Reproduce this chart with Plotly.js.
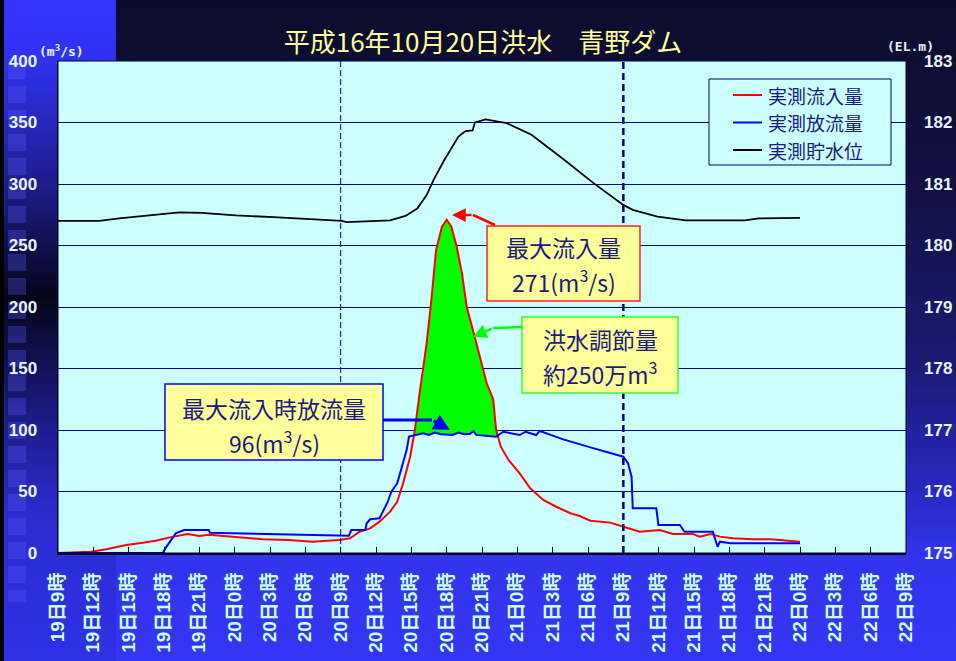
<!DOCTYPE html>
<html><head><meta charset="utf-8">
<script src="https://cdn.plot.ly/plotly-3.0.1.min.js"></script>
<style>
html,body{margin:0;padding:0;width:956px;height:661px;overflow:hidden;}
body{background:linear-gradient(to bottom,#0c0c2c 0%,#111144 30%,#1b1b74 55%,#2828c0 74%,#3434ee 84%,#3535f5 100%);position:relative;}
#strip{position:absolute;left:0;top:0;width:116px;height:661px;background:linear-gradient(to bottom,#3535ff 0%,#3131f0 9%,#1d1d8c 28%,#05051a 45%,#1a1a80 62%,#2c2cd0 78%,#3030e8 100%);border-left:4px solid #000;box-sizing:border-box;}
#sq{position:absolute;left:8px;top:62px;width:18px;height:540px;background:repeating-linear-gradient(to bottom,rgba(90,90,255,0.3) 0 17px,transparent 17px 24px);}
#chart{position:absolute;left:0;top:0;width:956px;height:661px;}
</style></head>
<body>
<div id="strip"></div><div id="sq"></div>
<div id="chart"></div>
<script>
// ---- data (hours from 19日9時) ----
const tickHours = [0,3,6,9,12,15,18,21,24,27,30,33,36,39,42,45,48,51,54,57,60,63,66,69,72];
const tickLabels = ['19日9時','19日12時','19日15時','19日18時','19日21時','20日0時','20日3時','20日6時','20日9時','20日12時','20日15時','20日18時','20日21時','21日0時','21日3時','21日6時','21日9時','21日12時','21日15時','21日18時','21日21時','22日0時','22日3時','22日6時','22日9時'];

const inflowHours = [0,2.8,4.1,5.8,7.2,8.3,9.5,11.0,12.0,12.8,14.8,17.4,19.6,21.6,23.9,24.8,25.6,26.5,27.3,28.2,28.8,29.3,29.9,30.3,30.7,31.3,31.7,32.1,32.6,33.0,33.4,33.85,34.3,34.7,35.3,36.0,36.4,36.95,37.2,37.6,38.25,39.2,40.1,41.2,42.3,43.5,44.3,45.2,46.9,48.0,49.4,51.1,52.2,53.9,54.5,55.4,56.2,57.3,59.0,60.5,63.0];
const inflow = [0,1,3,6.5,8.4,10,12.7,15.4,13.8,14.9,13.3,11.1,10.6,9.2,10.6,11.9,17.3,20,25.5,33.6,41.7,56.6,78.3,100,129.8,170.5,205.7,246.3,265.3,271,265.3,249,227.4,200.2,178.6,151.5,138,125,100,86.4,75.6,64.8,52.6,43.1,37.6,32.3,30.1,26.3,24.7,21.4,17.3,18.7,15.4,15.4,13.3,15.4,13.3,11.9,11.1,11.1,9.2];

const outflowHours = [0,8.9,9.2,10.0,10.7,12.8,12.9,16.8,20.8,23.9,24.7,24.9,26.1,26.2,26.5,27.3,27.6,28.0,28.3,28.8,29.2,29.6,29.8,30.5,31.0,31.5,32.0,32.5,33.0,33.5,34.0,34.5,35.0,35.3,35.5,36.2,37.2,37.8,39.2,39.7,40.6,40.9,42.9,45.2,47.1,48.0,48.4,48.7,48.8,50.8,50.98,52.8,53.2,55.6,56.0,56.2,57.1,63.0];
const outflow = [0,0,5,16,18.7,18.7,16.5,15.7,14.9,14.6,14.0,18.7,18.7,24,27.4,28.2,33.6,41.7,49.8,56.6,70.2,83.7,94.6,95.9,97.3,96,98,96.5,96,96,98,96.5,97,99,96,95.5,94.6,98.6,95.9,98.6,95.9,99.2,92.4,85.9,80.5,78.3,72.9,62,36.3,36.3,22.8,22.8,17.3,17.3,5.1,9.2,7.9,7.9];

const levelHours = [0,3.5,5.2,8.1,10.3,12.2,15.1,18.3,21.2,24.1,24.5,28.2,29.5,30.5,31.3,31.9,32.8,34.0,34.6,35.2,35.4,36.3,38.1,40.2,43.0,45.5,48.0,48.8,50.9,53.3,58.3,59.5,63.0];
const level = [180.40,180.40,180.44,180.50,180.54,180.53,180.49,180.46,180.43,180.40,180.38,180.41,180.48,180.60,180.82,181.07,181.39,181.77,181.86,181.87,182.00,182.05,181.99,181.80,181.39,181.01,180.66,180.58,180.47,180.41,180.41,180.44,180.45];

const seriesNames = ['実測流入量','実測放流量','実測貯水位'];
const titleText = '平成16年10月20日洪水　青野ダム';

// ---- flood-control area between inflow and outflow (derived) ----
function interp(xs, ys, x){
  for(let i=0;i<xs.length-1;i++){
    if(x>=xs[i] && x<=xs[i+1]){ const t=(x-xs[i])/(xs[i+1]-xs[i]); return ys[i]+t*(ys[i+1]-ys[i]); }
  }
  return ys[ys.length-1];
}
const H = Array.from(new Set(inflowHours.concat(outflowHours))).sort((a,b)=>a-b);
const D = H.map(h => interp(inflowHours,inflow,h) - interp(outflowHours,outflow,h));
const pkH = inflowHours[inflow.indexOf(Math.max(...inflow))];
let pk = H.indexOf(pkH), i0 = pk, i1 = pk;
while(i0>0 && D[i0-1]>0) i0--;
while(i1<H.length-1 && D[i1+1]>0) i1++;
const cross = (a,b) => H[a] + (H[b]-H[a]) * D[a]/(D[a]-D[b]);
const seg = [cross(i0-1,i0)].concat(H.slice(i0,i1+1), [cross(i1,i1+1)]);
const segR = seg.slice().reverse();
const fillX = seg.concat(segR);
const fillY = seg.map(h=>interp(inflowHours,inflow,h)).concat(segR.map(h=>interp(outflowHours,outflow,h)));

// ---- layout helpers (pixel -> paper) ----
const L=58, R=906, T=61, B=553;
const px = x => (x-L)/(R-L);
const py = y => (B-y)/(B-T);

const cjk = 'Noto Sans CJK JP, sans-serif';
const navy = '#1a1a80';

const traces = [
  {x:fillX, y:fillY, type:'scatter', mode:'lines', fill:'toself', fillcolor:'#00ff00', line:{width:0}, hoverinfo:'skip', showlegend:false},
  {x:inflowHours, y:inflow, name:seriesNames[0], type:'scatter', mode:'lines', line:{color:'#ff0000', width:2}},
  {x:outflowHours, y:outflow, name:seriesNames[1], type:'scatter', mode:'lines', line:{color:'#0000ff', width:2}},
  {x:levelHours, y:level, name:seriesNames[2], type:'scatter', mode:'lines', yaxis:'y2', line:{color:'#000000', width:1.8}}
];

const shapes = [
  {type:'rect', xref:'paper', yref:'paper', x0:0, x1:1, y0:0, y1:1, line:{color:'#000040', width:1}},
  {type:'line', xref:'x', yref:'paper', x0:24, x1:24, y0:0, y1:1, line:{color:'#000080', width:1, dash:'6px,3px'}},
  {type:'line', xref:'x', yref:'paper', x0:48, x1:48, y0:0, y1:1, line:{color:'#000080', width:2.5, dash:'7px,4px'}},
  // callout boxes
  {type:'rect', xref:'paper', yref:'paper', x0:px(487), x1:px(640), y0:py(301), y1:py(226), fillcolor:'#ffff99', line:{color:'#ff2020', width:1.5}},
  {type:'rect', xref:'paper', yref:'paper', x0:px(522), x1:px(678), y0:py(393), y1:py(317), fillcolor:'#ffff99', line:{color:'#33ff33', width:1.5}},
  {type:'rect', xref:'paper', yref:'paper', x0:px(165), x1:px(383), y0:py(460), y1:py(384), fillcolor:'#ffff99', line:{color:'#0000ff', width:1.5}},
  // arrow first segments
  {type:'line', xref:'paper', yref:'paper', x0:px(495), y0:py(225), x1:px(473), y1:py(215), line:{color:'#ff0000', width:2.5}},
  {type:'line', xref:'paper', yref:'paper', x0:px(522), y0:py(327), x1:px(493), y1:py(328), line:{color:'#00ff00', width:2.5}},
  {type:'line', xref:'paper', yref:'paper', x0:px(383), y0:py(420), x1:px(432), y1:py(420), line:{color:'#0000ff', width:3}},
  // legend
  {type:'rect', xref:'paper', yref:'paper', x0:px(709), x1:px(891), y0:py(165), y1:py(79), fillcolor:'#ccffff', line:{color:'#000080', width:1}},
  {type:'line', xref:'paper', yref:'paper', x0:px(733), x1:px(762), y0:py(95), y1:py(95), line:{color:'#ff0000', width:2}},
  {type:'line', xref:'paper', yref:'paper', x0:px(733), x1:px(762), y0:py(122.5), y1:py(122.5), line:{color:'#0000ff', width:2}},
  {type:'line', xref:'paper', yref:'paper', x0:px(733), x1:px(762), y0:py(150), y1:py(150), line:{color:'#000000', width:2}}
];

function txt(text, x, y, size, anchor){
  return {text:text, xref:'paper', yref:'paper', x:px(x), y:py(y), xanchor:anchor||'center', yanchor:'middle', showarrow:false, font:{family:cjk, size:size, color:navy}};
}
function arrow(color, w, hx, hy, tx, ty){
  return {text:' ', xref:'paper', yref:'paper', x:px(hx), y:py(hy), ax:tx-hx, ay:ty-hy, showarrow:true, arrowhead:2, arrowsize:1.1, arrowwidth:w, arrowcolor:color, font:{size:1}};
}
const unitFont = {family:'DejaVu Sans Mono, monospace', size:13, color:'#e8f4ff', weight:'bold'};
const annotations = [
  {text:'(m<sup>3</sup>/s)', xref:'paper', yref:'paper', x:px(61), y:py(51), xanchor:'center', yanchor:'middle', showarrow:false, font:unitFont},
  {text:'(EL.m)', xref:'paper', yref:'paper', x:px(910), y:py(47), xanchor:'center', yanchor:'middle', showarrow:false, font:unitFont},
  txt('最大流入量', 563.5, 247, 23), txt('271(m<sup>3</sup>/s)', 563.5, 281, 23),
  txt('洪水調節量', 600, 339, 23), txt('約250万m<sup>3</sup>', 600, 373, 23),
  txt('最大流入時放流量', 274, 408, 23), txt('96(m<sup>3</sup>/s)', 274, 442, 23),
  arrow('#ff0000', 2.5, 452, 215, 473, 215),
  arrow('#00ff00', 2.5, 473, 337, 493, 328),
  arrow('#0000ff', 3, 450, 430, 432, 420),
  txt(seriesNames[0], 766, 95, 19, 'left'),
  txt(seriesNames[1], 766, 122.5, 19, 'left'),
  txt(seriesNames[2], 766, 150, 19, 'left')
];

const tickFontY = {family:'Liberation Sans, Arial, sans-serif', size:17, color:'#e8f4ff', weight:'bold'};
const layout = {
  width:956, height:661,
  margin:{l:L, r:956-R, t:T, b:661-B, pad:0},
  paper_bgcolor:'rgba(0,0,0,0)', plot_bgcolor:'#ccffff',
  showlegend:false,
  title:{text:titleText, font:{family:cjk, size:26, color:'#ffff99'}, x:px(483), xref:'paper', xanchor:'center', y:1-43/661, yref:'container', yanchor:'middle'},
  xaxis:{range:[0,72], tickmode:'array', tickvals:tickHours, ticktext:tickLabels, tickangle:-90, ticks:'inside', ticklen:6, tickcolor:'#000000', tickwidth:1,
         showgrid:false, zeroline:false, showline:true, linecolor:'#000000', linewidth:2, ticklabelstandoff:10,
         tickfont:{family:'Liberation Sans, Noto Sans CJK JP, sans-serif', size:19, color:'#ccffff', weight:'bold'}},
  yaxis:{range:[0,400], dtick:50, tick0:0, ticks:'', showgrid:true, gridcolor:'#000080', gridwidth:1, zeroline:false,
         showline:true, linecolor:'#000000', linewidth:1.5, ticklabelstandoff:16, tickfont:tickFontY},
  yaxis2:{range:[175,183], dtick:1, tick0:175, overlaying:'y', side:'right', ticks:'', showgrid:false, zeroline:false, showline:false,
          ticklabelstandoff:17, tickfont:tickFontY},
  shapes:shapes, annotations:annotations
};
Plotly.newPlot('chart', traces, layout, {staticPlot:true, displayModeBar:false});
</script>
</body></html>
